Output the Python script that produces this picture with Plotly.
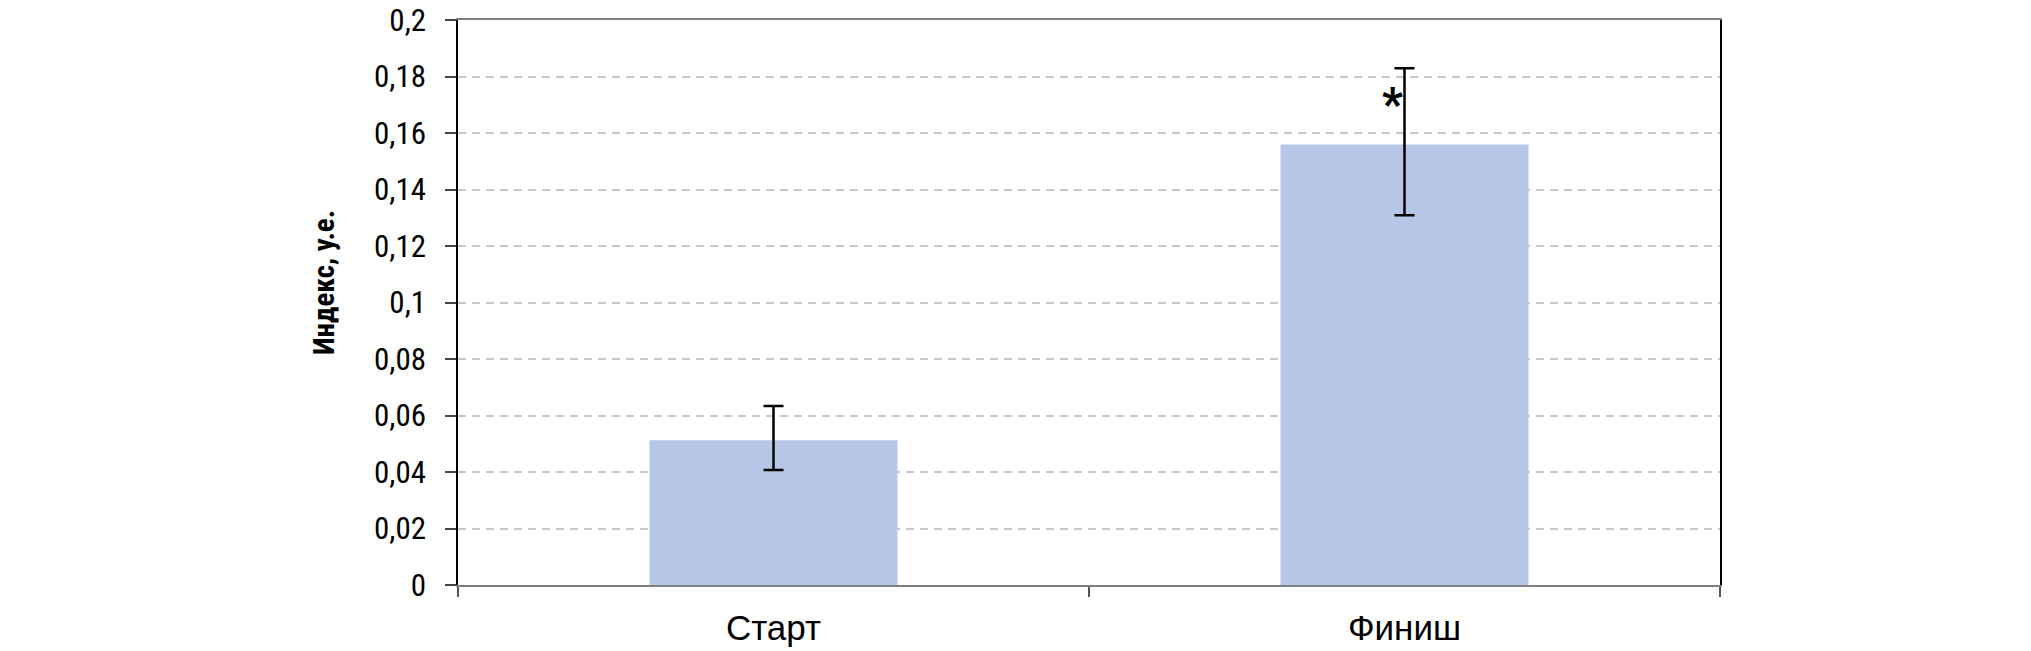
import plotly.graph_objects as go

categories = ["Старт", "Финиш"]
values = [0.0512, 0.1559]
err_plus = [0.0122, 0.0270]
err_minus = [0.0105, 0.0250]
y_ticks = [0, 0.02, 0.04, 0.06, 0.08, 0.1, 0.12, 0.14, 0.16, 0.18, 0.2]
y_tick_labels = ["0", "0,02", "0,04", "0,06", "0,08", "0,1", "0,12", "0,14", "0,16", "0,18", "0,2"]
y_title = "Индекс, у.е."
star_label = "*"
star_category = "Финиш"
star_value = 0.1734

FONT = "Roboto Condensed, Liberation Sans Narrow, DejaVu Sans Condensed, Arial Narrow, sans-serif"
XFONT = "Liberation Sans, Arial, sans-serif"

fig = go.Figure()
fig.add_trace(go.Bar(
    x=categories, y=values,
    marker=dict(color="#B6C6E6", line=dict(width=0)),
    width=0.393,
    error_y=dict(type="data", symmetric=False, array=err_plus, arrayminus=err_minus,
                 color="#000000", thickness=2.5, width=10),
))

fig.add_annotation(x=star_category, y=star_value, text="<b>" + star_label + "</b>",
                   showarrow=False, xref="x", yref="y", xanchor="center", yanchor="middle",
                   xshift=-12, yshift=-9, font=dict(family=FONT, size=46, color="#000000"))

fig.add_annotation(x=(324 - 458) / 1262, y=(585 - 283) / 565, xref="paper", yref="paper",
                   text="<b>" + y_title + "</b>", textangle=-90, showarrow=False,
                   xanchor="center", yanchor="middle",
                   font=dict(family=FONT, size=29, color="#000000"))

fig.update_layout(
    width=2031, height=651,
    margin=dict(l=458, r=311, t=20, b=66, pad=0, autoexpand=False),
    paper_bgcolor="white", plot_bgcolor="white",
    showlegend=False,
    font=dict(family=FONT, size=31, color="#000000"),
    bargap=0.6,
)
fig.update_xaxes(
    type="category", range=[-0.5, 1.5], automargin=False,
    showline=True, linecolor="#7F7F7F", linewidth=2, mirror=True,
    ticks="outside", tickson="boundaries", ticklen=10, tickwidth=1.5, tickcolor="#555555",
    ticklabelstandoff=11,
    showgrid=False, zeroline=False,
    tickfont=dict(family=XFONT, size=35, color="#000000"),
)
fig.update_yaxes(
    range=[0, 0.2], tickvals=y_ticks, ticktext=y_tick_labels, automargin=False,
    showline=True, linecolor="#000000", linewidth=1.5, mirror=True,
    ticks="outside", ticklen=11, tickwidth=2, tickcolor="#444444",
    ticklabelstandoff=13,
    showgrid=True, gridcolor="#C8C8C8", gridwidth=1.5, griddash="8px,6px",
    zeroline=False,
    tickfont=dict(family=FONT, size=31, color="#000000"),
)

fig.write_html("out.html", config={"displayModeBar": False},
               post_script="document.body.style.margin='0';")
